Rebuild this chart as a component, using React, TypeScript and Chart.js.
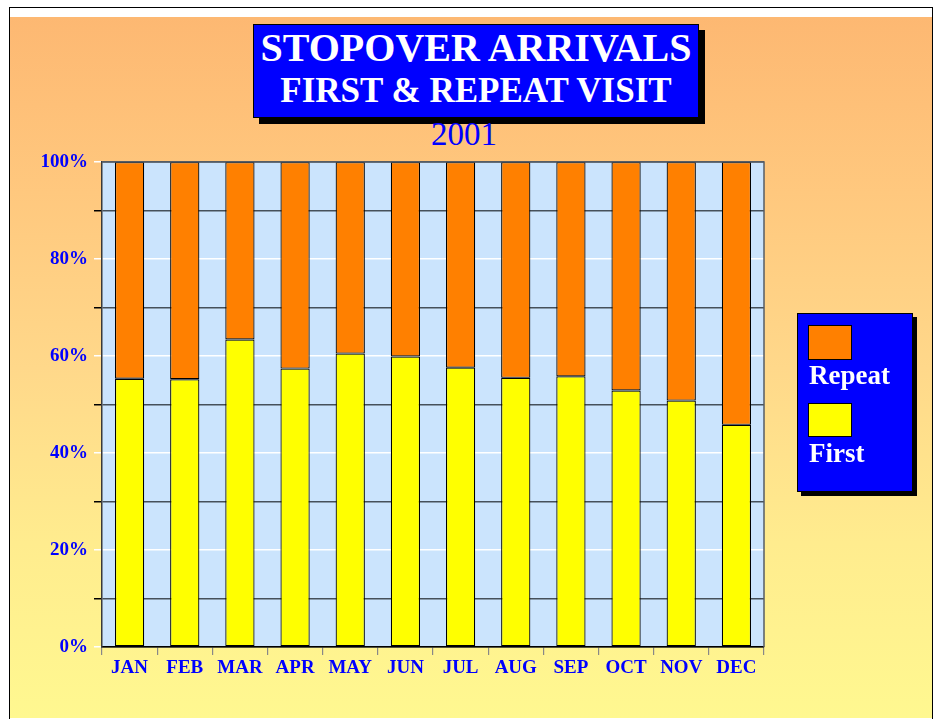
import React, { useEffect, useRef } from "react";
import { Chart, registerables } from "chart.js";

Chart.register(...registerables);

const months = ["JAN", "FEB", "MAR", "APR", "MAY", "JUN", "JUL", "AUG", "SEP", "OCT", "NOV", "DEC"];
const firstVisit = [55.3, 55.2, 63.4, 57.4, 60.5, 59.9, 57.6, 55.5, 55.8, 52.9, 50.8, 45.8];
const repeatVisit = [44.7, 44.8, 36.6, 42.6, 39.5, 40.1, 42.4, 44.5, 44.2, 47.1, 49.2, 54.2];
const yTicks = [0, 20, 40, 60, 80, 100];

const SERIF = '"Liberation Serif", "Times New Roman", serif';
const BLUE = "#0000FF";

export default function App() {
  const canvasRef = useRef<HTMLCanvasElement | null>(null);

  useEffect(() => {
    const canvas = canvasRef.current;
    if (!canvas) return;
    const plotBg = {
      id: "plotBg",
      beforeDraw(chart: any) {
        const { ctx, chartArea: a } = chart;
        ctx.save();
        ctx.fillStyle = "#CBE4FD";
        ctx.fillRect(a.left, a.top, a.right - a.left, a.bottom - a.top);
        ctx.restore();
      },
      afterDraw(chart: any) {
        const { ctx, chartArea: a } = chart;
        ctx.save();
        ctx.strokeStyle = "#555c66";
        ctx.lineWidth = 1.5;
        ctx.beginPath();
        ctx.moveTo(a.left, a.top);
        ctx.lineTo(a.right, a.top);
        ctx.lineTo(a.right, a.bottom);
        ctx.stroke();
        ctx.restore();
      },
    };
    const chart = new Chart(canvas, {
      type: "bar",
      data: {
        labels: months,
        datasets: [
          {
            label: "First",
            data: firstVisit,
            backgroundColor: "#FFFF00",
            borderColor: "#000000",
            borderWidth: 1.2,
            borderSkipped: false,
            barPercentage: 0.53,
            categoryPercentage: 1,
          },
          {
            label: "Repeat",
            data: repeatVisit,
            backgroundColor: "#FF8000",
            borderColor: "#000000",
            borderWidth: 1.2,
            borderSkipped: false,
            barPercentage: 0.53,
            categoryPercentage: 1,
          },
        ],
      },
      options: {
        animation: false,
        responsive: false,
        maintainAspectRatio: false,
        layout: { padding: { left: 0, top: 162, right: 171, bottom: 0 } },
        plugins: { legend: { display: false }, title: { display: false }, tooltip: { enabled: false } },
        scales: {
          x: {
            stacked: true,
            afterFit: (s: any) => {
              s.height = 74;
            },
            grid: {
              offset: true,
              drawOnChartArea: false,
              drawTicks: true,
              tickLength: 8,
              color: "#888888",
              lineWidth: 1.2,
            },
            border: { display: true, color: "#000000", width: 1.5 },
            ticks: {
              color: BLUE,
              font: { family: SERIF, size: 19, weight: "bold" },
              padding: 2,
              maxRotation: 0,
              autoSkip: false,
            },
          },
          y: {
            stacked: true,
            min: 0,
            max: 100,
            afterFit: (s: any) => {
              s.width = 102;
            },
            afterBuildTicks: (s: any) => {
              const arr: any[] = [];
              for (let v = 0; v <= 100; v += 10) arr.push({ value: v });
              s.ticks = arr;
            },
            grid: {
              drawTicks: true,
              tickLength: 8,
              lineWidth: 1.5,
              color: (c: any) => {
                const v = c.tick ? c.tick.value : 0;
                if (v === 0 || v === 100) return "#555c66";
                return v % 20 === 0 ? "#FFFFFF" : "#46505a";
              },
              tickColor: (c: any) => {
                const v = c.tick ? c.tick.value : 0;
                return v % 20 === 0 ? "#FFFFFF" : "#000000";
              },
            },
            border: { display: true, color: "#3a3a3a", width: 1.5 },
            ticks: {
              color: BLUE,
              font: { family: SERIF, size: 19, weight: "bold" },
              padding: 6,
              autoSkip: false,
              callback: (v: any) => (yTicks.includes(Number(v)) ? v + "%" : ""),
            },
          },
        },
      },
      plugins: [plotBg],
    } as any);
    return () => chart.destroy();
  }, []);

  return (
    <div style={{ position: "absolute", left: 0, top: 0, width: 935, height: 721, background: "#FFFFFF", overflow: "hidden" }}>
      <div
        style={{
          position: "absolute",
          left: 9,
          top: 7,
          width: 924,
          height: 712,
          borderTop: "1.5px solid #000",
          borderLeft: "1.5px solid #000",
          borderRight: "1.5px solid #000",
          boxSizing: "border-box",
        }}
      />
      <div
        style={{
          position: "absolute",
          left: 10,
          top: 17,
          width: 922,
          height: 701,
          background: "linear-gradient(to bottom, #FDB872 0%, #FFC87E 25%, #FFD88A 50%, #FFEC8E 75%, #FFF890 100%)",
        }}
      />
      <div
        style={{
          position: "absolute",
          left: 253,
          top: 24,
          width: 446,
          height: 94,
          background: BLUE,
          border: "1px solid #000",
          boxSizing: "border-box",
          boxShadow: "6px 6px 0 #000",
        }}
      />
      <div
        style={{
          position: "absolute",
          left: 253,
          width: 446,
          top: 28,
          textAlign: "center",
          color: "#FFFFFF",
          fontFamily: SERIF,
          fontWeight: "bold",
          fontSize: 40,
          lineHeight: "40px",
          whiteSpace: "nowrap",
        }}
      >
        STOPOVER ARRIVALS
      </div>
      <div
        style={{
          position: "absolute",
          left: 253,
          width: 446,
          top: 73,
          textAlign: "center",
          color: "#FFFFFF",
          fontFamily: SERIF,
          fontWeight: "bold",
          fontSize: 35,
          lineHeight: "35px",
          whiteSpace: "nowrap",
        }}
      >
        FIRST &amp; REPEAT VISIT
      </div>
      <div
        style={{
          position: "absolute",
          left: 364,
          width: 200,
          top: 118,
          textAlign: "center",
          color: BLUE,
          fontFamily: SERIF,
          fontSize: 33,
          lineHeight: "33px",
        }}
      >
        2001
      </div>
      <canvas
        ref={canvasRef}
        width={935}
        height={721}
        style={{ position: "absolute", left: 0, top: 0, width: 935, height: 721 }}
      />
      <div
        style={{
          position: "absolute",
          left: 797,
          top: 313,
          width: 116,
          height: 179,
          background: BLUE,
          border: "1px solid #000",
          boxSizing: "border-box",
          boxShadow: "4px 4px 0 #000",
        }}
      />
      <div style={{ position: "absolute", left: 808, top: 325, width: 44, height: 35, background: "#FF8000", border: "1px solid #000", boxSizing: "border-box" }} />
      <div
        style={{
          position: "absolute",
          left: 809,
          top: 362,
          color: "#FFFFFF",
          fontFamily: SERIF,
          fontWeight: "bold",
          fontSize: 27,
          lineHeight: "27px",
          whiteSpace: "nowrap",
        }}
      >
        Repeat
      </div>
      <div style={{ position: "absolute", left: 808, top: 403, width: 44, height: 34, background: "#FFFF00", border: "1px solid #000", boxSizing: "border-box" }} />
      <div
        style={{
          position: "absolute",
          left: 809,
          top: 440,
          color: "#FFFFFF",
          fontFamily: SERIF,
          fontWeight: "bold",
          fontSize: 27,
          lineHeight: "27px",
          whiteSpace: "nowrap",
        }}
      >
        First
      </div>
    </div>
  );
}
